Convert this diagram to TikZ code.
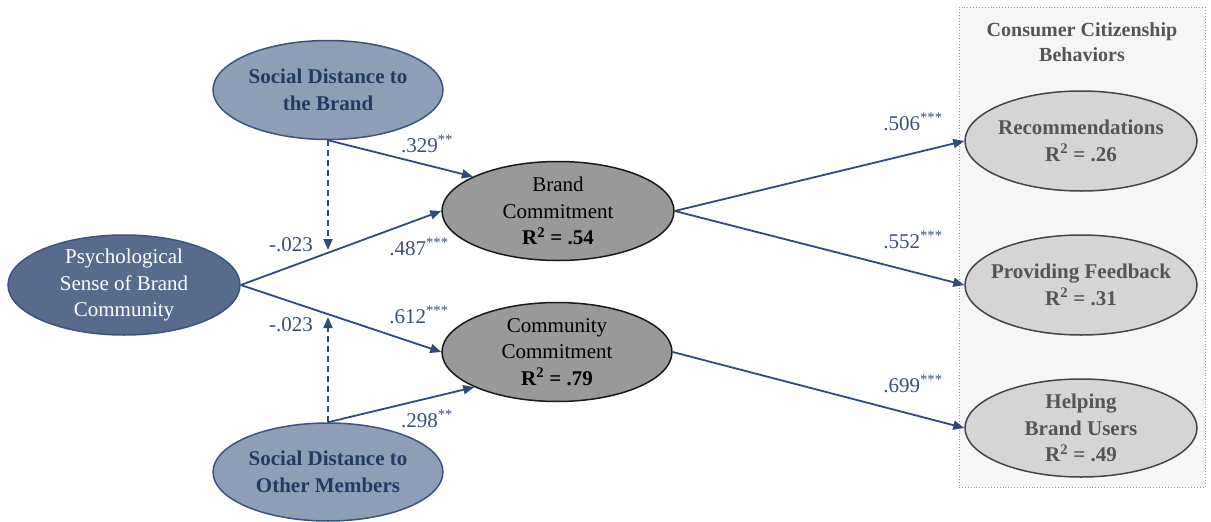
\documentclass[tikz,border=0pt]{standalone}
\usepackage{fontspec}
\setmainfont{Liberation Serif}
\usetikzlibrary{shapes.geometric,arrows.meta}

\definecolor{pathblue}{HTML}{2F4B7C}
\definecolor{labelblue}{HTML}{3B5077}
\definecolor{distfill}{HTML}{8F9EB7}
\definecolor{distline}{HTML}{3A5480}
\definecolor{disttext}{HTML}{233A62}
\definecolor{sensefill}{HTML}{586B8D}
\definecolor{commitfill}{HTML}{999999}
\definecolor{outfill}{HTML}{D5D5D5}
\definecolor{outline}{HTML}{454545}
\definecolor{outtext}{HTML}{555555}
\definecolor{panelfill}{HTML}{F6F6F6}
\definecolor{panelline}{HTML}{9A9A9A}

\begin{document}
\begin{tikzpicture}[x=1pt,y=-1pt,
  oval/.style={ellipse, draw, line width=1.5pt, inner sep=0pt},
  distoval/.style={oval, fill=distfill, draw=distline},
  senseoval/.style={oval, fill=sensefill, draw=distline},
  commitoval/.style={oval, fill=commitfill, draw=black!90},
  outoval/.style={oval, fill=outfill, draw=outline},
  txt/.style={align=center, font=\fontsize{21}{26.5}\selectfont},
  boldtxt/.style={txt, font=\bfseries\fontsize{21}{26.5}\selectfont},
  coef/.style={text=labelblue, font=\fontsize{21}{24}\selectfont},
  path/.style={draw=pathblue, line width=1.8pt, -{Triangle[length=11pt,width=9pt]}},
  modpath/.style={path, dash pattern=on 6pt off 4pt}]

\useasboundingbox (0,0) rectangle (1211,522);

% panel for the outcome variables
\node[draw=panelline, fill=panelfill, dotted, line width=0.9pt, inner sep=0pt,
      minimum width=246pt, minimum height=480pt] (panel) at (1082,247) {};
\node[boldtxt, text=outtext, font=\bfseries\fontsize{20}{25.5}\selectfont] (ptitle) at (1082,42)
  {Consumer Citizenship\\Behaviors};

% latent constructs
\node[distoval, minimum width=230pt, minimum height=99pt] (sdb) at (328,90) {};
\node[boldtxt, text=disttext] at (sdb) {Social Distance to\\the Brand};

\node[senseoval, minimum width=232pt, minimum height=100pt] (psbc) at (124,285) {};
\node[txt, text=white] at (psbc) {Psychological\\Sense of Brand\\Community};

\node[distoval, minimum width=230pt, minimum height=98pt] (sdo) at (328,472) {};
\node[boldtxt, text=disttext] at (sdo) {Social Distance to\\Other Members};

\node[commitoval, minimum width=232pt, minimum height=99pt] (bc) at (558,211) {};
\node[txt] at (bc) {Brand\\Commitment\\\textbf{R\textsuperscript{2} = .54}};

\node[commitoval, minimum width=230pt, minimum height=99pt] (cc) at (557,352) {};
\node[txt] at (cc) {Community\\Commitment\\\textbf{R\textsuperscript{2} = .79}};

\node[outoval, minimum width=232pt, minimum height=100pt] (rec) at (1081,141) {};
\node[boldtxt, text=outtext] at (rec) {Recommendations\\R\textsuperscript{2} = .26};

\node[outoval, minimum width=232pt, minimum height=100pt] (pf) at (1081,285) {};
\node[boldtxt, text=outtext] at (pf) {Providing Feedback\\R\textsuperscript{2} = .31};

\node[outoval, minimum width=232pt, minimum height=98pt] (hbu) at (1081,428) {};
\node[boldtxt, text=outtext] at (hbu) {Helping\\Brand Users\\R\textsuperscript{2} = .49};

% ends of the moderation paths on the direct paths
\coordinate (modup) at (328,250);
\coordinate (moddown) at (328,317);

% structural paths
\draw[path] (sdb.south) -- (bc.158);
\draw[path] (psbc.east) -- (bc.west);
\draw[path] (psbc.east) -- (cc.west);
\draw[path] (sdo.north) -- (cc.203);
\draw[modpath] (sdb.south) -- (modup);
\draw[modpath] (sdo.north) -- (moddown);
\draw[path] (bc.east) -- (rec.west);
\draw[path] (bc.east) -- (pf.west);
\draw[path] (cc.east) -- (hbu.west);

% path coefficients
\node[coef] (c1) at (427,144) {.329\textsuperscript{**}};
\node[coef] (c2) at (291,245) {-.023};
\node[coef] (c3) at (419,247) {.487\textsuperscript{***}};
\node[coef] (c4) at (419,315) {.612\textsuperscript{***}};
\node[coef] (c5) at (291,325) {-.023};
\node[coef] (c6) at (427,419) {.298\textsuperscript{**}};
\node[coef] (c7) at (913,122) {.506\textsuperscript{***}};
\node[coef] (c8) at (913,240) {.552\textsuperscript{***}};
\node[coef] (c9) at (913,384) {.699\textsuperscript{***}};

\end{tikzpicture}
\end{document}
